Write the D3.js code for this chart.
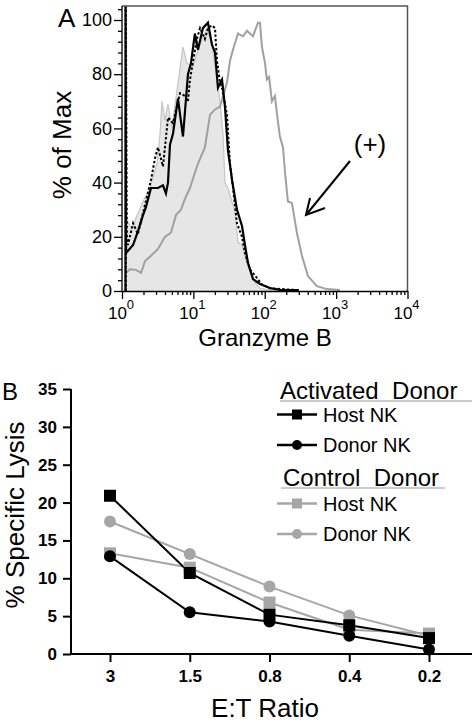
<!DOCTYPE html>
<html><head><meta charset="utf-8">
<script src="https://cdn.jsdelivr.net/npm/d3@7"></script>
<style>
html,body{margin:0;padding:0;background:#fff;}
svg{display:block;font-family:"Liberation Sans",Arial,Helvetica,sans-serif;}
</style></head>
<body>
<svg id="chart" width="472" height="727"></svg>
<script>
// ---------- Panel A data: histograms [Granzyme B intensity, % of Max] ----------
const isotypeFill = [[1.10,0],[1.14,25],[1.17,26],[1.38,23],[1.57,27],[1.97,33],[2.47,38],[3.09,47],[3.41,58],[3.63,70],[4.00,63],[4.41,69],[5.01,60],[5.89,74],[7.15,90],[8.13,84],[9.87,83],[12.4,91],[15.5,97],[18.2,91],[21.4,78],[23.6,70],[26.0,58],[27.7,40],[30.5,38],[38.3,29],[42.2,18],[48.0,17],[58.2,9],[72.9,3],[85.7,1],[118,0.3],[300,0.2]];
const hostSolid = [[1.12,0],[1.12,110],[1.14,14],[1.43,17],[1.67,22],[1.97,28],[2.17,31],[2.55,38],[3.19,38],[3.75,39],[4.13,36],[4.41,40],[4.70,54],[5.18,58],[6.08,71],[7.15,57],[8.40,80],[9.25,84],[10.5,95],[11.6,89],[13.6,97],[16.0,99],[18.2,91],[20.1,88],[22.1,75],[25.2,78],[27.7,68],[30.5,52],[34.8,41],[40.8,30],[48.0,24],[52.8,17],[58.2,10.4],[68.4,4.4],[85.7,2.6],[118,1.1],[163,0.4],[300,0.3]];
const donorDotted = [[1.13,0],[1.13,110],[1.17,20],[1.21,17],[1.43,25],[1.67,21],[2.55,41],[2.90,49],[3.19,53],[3.75,46],[4.00,53],[4.41,64],[5.18,62],[6.49,73],[7.62,72],[8.40,70],[8.96,78],[11.2,93],[12.4,97],[14.5,93],[16.0,97],[18.2,98],[20.1,97],[21.4,85],[23.6,77],[25.2,75],[29.6,65],[32.6,47],[35.9,38],[40.8,25],[48.0,20],[52.8,14],[62.1,8],[77.8,4.8],[90,2.5],[118,1],[300,0.3]];
const positiveCtrl = [[1.14,6.7],[1.29,8],[1.57,7.8],[1.85,6.7],[2.10,11],[2.55,13],[3.19,15.5],[4.00,20],[4.85,21.5],[5.70,28],[6.70,30],[7.62,34],[8.96,38],[9.87,41.5],[11.6,47],[14.5,53],[17.1,65],[20.1,67],[23.6,68],[29.6,77],[32.6,85],[35.9,89],[42.2,95],[49.5,94],[56.4,96],[62.1,95],[68.4,94],[80.3,99],[85.7,99],[91.4,90],[101,84],[107,78],[115,79],[126,70],[139,72],[148,65.5],[163,57],[180,53],[192,44],[211,33],[240,32.5],[282,21.5],[332,13],[403,5.5],[538,1.8],[743,0.7],[1130,0.4]];
const xTicksA = [1,10,100,1000,10000];
const xExpA = ["0","1","2","3","4"];
const yTicksA = [0,20,40,60,80,100];

// ---------- Panel B data ----------
const ratios = ["3","1.5","0.8","0.4","0.2"];
const activatedHost  = [20.9,10.7,5.2,3.8,2.1];
const activatedDonor = [12.9,5.5,4.3,2.4,0.6];
const controlHost    = [13.3,11.4,6.8,3.2,2.7];
const controlDonor   = [17.5,13.2,8.9,5.1,2.4];
const yTicksB = [0,5,10,15,20,25,30,35];

const BLACK = "#000", GRAY = "#a6a6a6";
const svg = d3.select("#chart");

// ================= Panel A =================
const xA = d3.scaleLog().domain([1,10000]).range([122,407.5]);
const yA = d3.scaleLinear().domain([0,100]).range([291,20]);
const topA = 6;

svg.append("clipPath").attr("id","clipA").append("rect")
  .attr("x",122).attr("y",topA).attr("width",407.5-122).attr("height",291-topA);
const gA = svg.append("g").attr("clip-path","url(#clipA)");
const lineA = d3.line().x(d=>xA(d[0])).y(d=>yA(d[1]));
const areaA = d3.area().x(d=>xA(d[0])).y0(yA(0)).y1(d=>yA(d[1]));

gA.append("path").datum(isotypeFill).attr("d",areaA).attr("fill","#e6e6e6");
gA.append("path").datum(isotypeFill).attr("d",lineA).attr("fill","none").attr("stroke","#c4c4c4").attr("stroke-width",1.2);
gA.append("path").datum(positiveCtrl).attr("d",lineA).attr("fill","none").attr("stroke","#a0a0a0").attr("stroke-width",2);
gA.append("path").datum(donorDotted).attr("d",lineA).attr("fill","none").attr("stroke",BLACK).attr("stroke-width",2).attr("stroke-dasharray","2.5,2");
gA.append("path").datum(hostSolid).attr("d",lineA).attr("fill","none").attr("stroke",BLACK).attr("stroke-width",2.2);

// frame top/right
svg.append("path").attr("d",`M122,${topA}H407.5V291`).attr("fill","none").attr("stroke","#555").attr("stroke-width",1.5);

// y axis A
const yAxA = svg.append("g").attr("transform","translate(122,0)")
  .call(d3.axisLeft(yA).tickValues(yTicksA).tickSize(8).tickPadding(2).tickSizeOuter(0));
const yMinA = svg.append("g").attr("transform","translate(122,0)")
  .call(d3.axisLeft(yA).tickValues(d3.range(4,105,4).filter(v=>v%20!==0)).tickSize(4).tickFormat("").tickSizeOuter(0));
yMinA.select(".domain").remove();
yAxA.select(".domain").attr("d",`M0,${topA}V291`);
yAxA.selectAll("text").attr("font-size",18).attr("fill","#000").attr("font-family","Liberation Sans, Arial, sans-serif");
[yAxA,yMinA].forEach(g=>g.selectAll("line,path").attr("stroke","#000").attr("stroke-width",1.3));

// x axis A
const xAxA = svg.append("g").attr("transform","translate(0,291)")
  .call(d3.axisBottom(xA).tickValues(xTicksA).tickSize(8).tickFormat("").tickSizeOuter(0));
const minorX = [];
xTicksA.slice(0,4).forEach(d=>{for(let k=2;k<10;k++) minorX.push(d*k);});
const xMinA = svg.append("g").attr("transform","translate(0,291)")
  .call(d3.axisBottom(xA).tickValues(minorX).tickSize(4).tickFormat("").tickSizeOuter(0));
xMinA.select(".domain").remove();
[xAxA,xMinA].forEach(g=>g.selectAll("line,path").attr("stroke","#000").attr("stroke-width",1.3));
xTicksA.forEach((v,i)=>{
  const t = svg.append("text").attr("x",xA(v)-1).attr("y",319).attr("text-anchor","middle").attr("font-size",17);
  t.append("tspan").text("10");
  t.append("tspan").attr("dy",-10).attr("font-size",13).text(xExpA[i]);
});
svg.append("text").attr("x",265).attr("y",346).attr("text-anchor","middle").attr("font-size",24).text("Granzyme B");
svg.append("text").attr("transform","translate(71,145) rotate(-90)").attr("text-anchor","middle").attr("font-size",26).text("% of Max");
svg.append("text").attr("x",58).attr("y",27).attr("font-size",26).text("A");

// (+) annotation
svg.append("text").attr("x",370).attr("y",153).attr("text-anchor","middle").attr("font-size",26).text("(+)");
svg.append("path").attr("d","M350,161L306,215M310,198L306,215L325,208").attr("fill","none").attr("stroke","#000").attr("stroke-width",2);

// ================= Panel B =================
const xB = d3.scalePoint().domain(ratios).range([110,429]);
const yB = d3.scaleLinear().domain([0,35]).range([654,389]);

const yAxB = svg.append("g").attr("transform","translate(71,0)")
  .call(d3.axisLeft(yB).tickValues(yTicksB).tickSize(8).tickPadding(6).tickSizeOuter(0));
yAxB.selectAll("text").attr("font-size",17).attr("font-weight","bold").attr("fill","#000").attr("font-family","Liberation Sans, Arial, sans-serif");
yAxB.selectAll("line,path").attr("stroke","#000").attr("stroke-width",2);
yAxB.select(".domain").attr("d","M0,389V655");

const xAxB = svg.append("g").attr("transform","translate(0,654)")
  .call(d3.axisBottom(xB).tickSize(8).tickPadding(8).tickSizeOuter(0));
xAxB.select(".domain").attr("d","M70,0H472");
xAxB.selectAll("text").attr("font-size",17).attr("font-weight","bold").attr("fill","#000").attr("font-family","Liberation Sans, Arial, sans-serif");
xAxB.selectAll("line,path").attr("stroke","#000").attr("stroke-width",2);

svg.append("text").attr("x",265).attr("y",717).attr("text-anchor","middle").attr("font-size",26).text("E:T Ratio");
svg.append("text").attr("transform","translate(24,515) rotate(-90)").attr("text-anchor","middle").attr("font-size",26).text("% Specific Lysis");
svg.append("text").attr("x",2).attr("y",400).attr("font-size",24).text("B");

const series = [
  {vals:controlHost, color:GRAY, shape:"square"},
  {vals:controlDonor, color:GRAY, shape:"circle"},
  {vals:activatedDonor, color:BLACK, shape:"circle"},
  {vals:activatedHost, color:BLACK, shape:"square"}
];
const lineB = d3.line().x((d,i)=>xB(ratios[i])).y(d=>yB(d));
function marker(g, shape, x, y, color, s){
  if(shape==="square") g.append("rect").attr("x",x-s/2).attr("y",y-s/2).attr("width",s).attr("height",s).attr("fill",color);
  else g.append("circle").attr("cx",x).attr("cy",y).attr("r",s/2).attr("fill",color);
}
series.forEach(s=>{
  svg.append("path").datum(s.vals).attr("d",lineB).attr("fill","none").attr("stroke",s.color).attr("stroke-width",2);
});
series.forEach(s=>{
  const g = svg.append("g");
  s.vals.forEach((v,i)=>marker(g, s.shape, xB(ratios[i]), yB(v), s.color, 12));
});

// legend
const legend = svg.append("g");
function header(text, x, y, ux1, ux2){
  legend.append("text").attr("x",x).attr("y",y).attr("font-size",24).text(text);
  legend.append("line").attr("x1",ux1).attr("x2",ux2).attr("y1",y+2).attr("y2",y+2).attr("stroke","#9a9a9a").attr("stroke-width",1.2);
}
function item(text, y, color, shape){
  legend.append("line").attr("x1",277).attr("x2",317).attr("y1",y).attr("y2",y).attr("stroke",color).attr("stroke-width",2.5);
  marker(legend, shape, 297, y, color, 10);
  legend.append("text").attr("x",323).attr("y",y+7).attr("font-size",20).text(text);
}
header("Activated\u00a0\u00a0Donor", 280, 399, 280, 472);
item("Host NK", 414.5, BLACK, "square");
item("Donor NK", 445, BLACK, "circle");
header("Control\u00a0\u00a0Donor", 283, 486, 281, 445);
item("Host NK", 503.5, GRAY, "square");
item("Donor NK", 534, GRAY, "circle");
</script>
</body></html>
